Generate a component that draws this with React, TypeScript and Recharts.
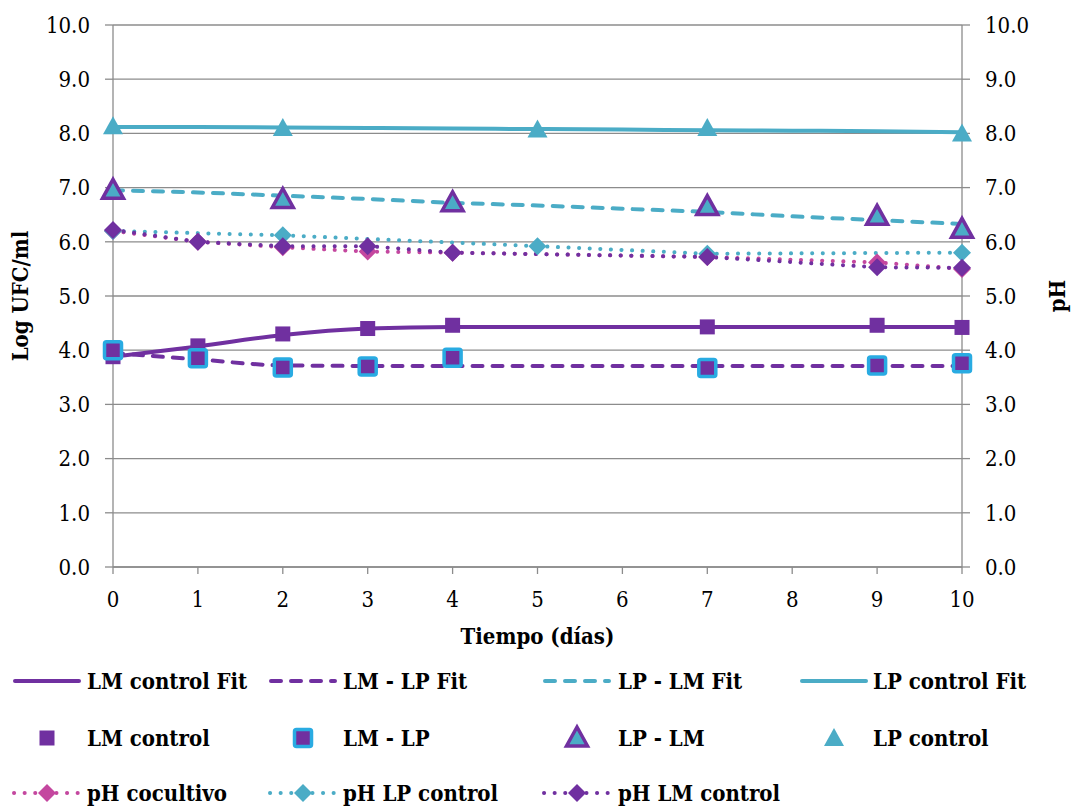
import { ComposedChart, Line, XAxis, YAxis, CartesianGrid } from "recharts";

// sampling days
const days = [0, 1, 2, 3, 4, 5, 6, 7, 8, 9, 10];
const dayTicks = [0, 1, 2, 3, 4, 5, 6, 7, 8, 9, 10];
const valueTicks = [0, 1, 2, 3, 4, 5, 6, 7, 8, 9, 10];

// fitted growth curves (Log UFC/ml)
const lmControlFit = [3.88, 4.07, 4.28, 4.4, 4.43, 4.43, 4.43, 4.43, 4.43, 4.43, 4.43];
const lmLpFit = [3.95, 3.83, 3.72, 3.71, 3.71, 3.71, 3.71, 3.71, 3.71, 3.71, 3.71];
const lpLmFit = [6.95, 6.91, 6.85, 6.79, 6.72, 6.67, 6.61, 6.55, 6.47, 6.4, 6.33];
const lpControlFit = [8.12, 8.12, 8.11, 8.1, 8.09, 8.08, 8.07, 8.06, 8.05, 8.04, 8.02];

// measured counts
const lmDays = [0, 1, 2, 3, 4, 7, 9, 10];
const lmControl = [3.88, 4.08, 4.3, 4.4, 4.46, 4.43, 4.46, 4.42];
const lmLp = [4.0, 3.85, 3.68, 3.7, 3.86, 3.67, 3.72, 3.76];
const lpLmDays = [0, 2, 4, 7, 9, 10];
const lpLm = [6.95, 6.78, 6.72, 6.65, 6.47, 6.23];
const lpDays = [0, 2, 5, 7, 10];
const lpControl = [8.13, 8.1, 8.07, 8.1, 8.0];

// pH
const phCocultivo = [6.2, 6.0, 5.9, 5.82, 5.8, 5.72, 5.62, 5.5];
const phLpControl = [6.2, 6.12, 5.92, 5.78, 5.8];
const phLmControl = [6.22, 6.0, 5.92, 5.92, 5.8, 5.72, 5.53, 5.52];

const PURPLE = "#7030A0";
const AQUA = "#4BACC6";
const BLUE = "#29ABE2";
const PINK = "#C4479F";
const GRID = "#8C8C8C";
const FONT = "'DejaVu Serif Condensed', 'DejaVu Serif', serif";

const W = 1071;
const H = 806;
const PLOT_LEFT = 113;
const PLOT_RIGHT = 962;
const PLOT_TOP = 25;
const PLOT_BOTTOM = 567;

const zip = (xs: number[], ys: number[]) => xs.map((day, i) => ({ day, v: ys[i] }));

type MarkerProps = { cx: number; cy: number };

const Square = ({ cx, cy }: MarkerProps) => (
  <rect x={cx - 7.5} y={cy - 7.5} width={15} height={15} fill={PURPLE} />
);

const FramedSquare = ({ cx, cy }: MarkerProps) => (
  <rect x={cx - 8.5} y={cy - 8.5} width={17} height={17} rx={2} fill={PURPLE} stroke={BLUE} strokeWidth={3.5} />
);

const OutlinedTriangle = ({ cx, cy }: MarkerProps) => (
  <path
    d={`M${cx},${cy - 11} L${cx + 10.5},${cy + 8} L${cx - 10.5},${cy + 8} Z`}
    fill={AQUA}
    stroke={PURPLE}
    strokeWidth={3.5}
  />
);

const Triangle = ({ cx, cy }: MarkerProps) => (
  <path d={`M${cx},${cy - 10} L${cx + 10},${cy + 8} L${cx - 10},${cy + 8} Z`} fill={AQUA} />
);

const Diamond = ({ cx, cy, color }: MarkerProps & { color: string }) => (
  <path d={`M${cx},${cy - 9} L${cx + 9},${cy} L${cx},${cy + 9} L${cx - 9},${cy} Z`} fill={color} />
);

const markers = (name: string, render: (p: MarkerProps) => JSX.Element) => (p: any) => {
  if (p.cx == null || p.cy == null) return <g key={`${name}-${p.index}`} />;
  return <g key={`${name}-${p.index}`}>{render({ cx: p.cx, cy: p.cy })}</g>;
};

const NO_ANIM = { isAnimationActive: false } as const;
const DOTTED = "0.1 10.5";
const DASHED = "10 10";

type LegendItem = {
  label: string;
  kind: "line" | "marker" | "phline";
  color?: string;
  dash?: string;
  marker?: (p: MarkerProps) => JSX.Element;
};

const legendRows: LegendItem[][] = [
  [
    { label: "LM control Fit", kind: "line", color: PURPLE },
    { label: "LM - LP Fit", kind: "line", color: PURPLE, dash: DASHED },
    { label: "LP -  LM Fit", kind: "line", color: AQUA, dash: DASHED },
    { label: "LP control Fit", kind: "line", color: AQUA },
  ],
  [
    { label: "LM control", kind: "marker", marker: Square },
    { label: "LM - LP", kind: "marker", marker: FramedSquare },
    { label: "LP - LM", kind: "marker", marker: OutlinedTriangle },
    { label: "LP control", kind: "marker", marker: Triangle },
  ],
  [
    { label: "pH cocultivo", kind: "phline", color: PINK },
    { label: "pH LP control", kind: "phline", color: AQUA },
    { label: "pH LM control", kind: "phline", color: PURPLE },
  ],
];

const legendCols = [13, 269, 543, 800];
const legendTextX = [87, 343, 618, 873];
const legendRowY = [21, 78, 133];

const boldText = { fontFamily: FONT, fontStretch: "condensed", fontWeight: "bold", fontSize: 22 } as const;

function ChartLegend() {
  return (
    <svg width={W} height={146} style={{ position: "absolute", left: 0, top: 660 }}>
      {legendRows.map((row, r) =>
        row.map((item, c) => {
          const x0 = legendCols[c];
          const y = legendRowY[r];
          const mid = x0 + 34;
          let icon: JSX.Element | null = null;
          if (item.kind === "line") {
            icon = (
              <line
                x1={x0 + 2}
                x2={x0 + 66}
                y1={y}
                y2={y}
                stroke={item.color}
                strokeWidth={4}
                strokeLinecap="round"
                strokeDasharray={item.dash}
              />
            );
          } else if (item.kind === "marker" && item.marker) {
            icon = item.marker({ cx: mid, cy: y });
          } else {
            icon = (
              <g>
                <line x1={x0 + 1} x2={x0 + 66} y1={y} y2={y} stroke={item.color} strokeWidth={4} strokeLinecap="round" strokeDasharray={DOTTED} />
                <Diamond cx={mid} cy={y} color={item.color as string} />
              </g>
            );
          }
          return (
            <g key={`${r}-${c}`}>
              {icon}
              <text x={legendTextX[c]} y={y} dominantBaseline="central" style={boldText} fill="#000">
                {item.label}
              </text>
            </g>
          );
        })
      )}
    </svg>
  );
}

export default function App() {
  const tickStyle = { fill: "#000", fontSize: 22, style: { fontFamily: FONT, fontStretch: "condensed" } };
  const fmt = (v: number) => v.toFixed(1);
  const midY = (PLOT_TOP + PLOT_BOTTOM) / 2;

  return (
    <div style={{ position: "absolute", left: 0, top: 0, width: W, height: H, background: "#fff" }}>
      <ComposedChart
        width={W}
        height={H}
        margin={{ top: PLOT_TOP, right: 0, left: 0, bottom: 154 }}
      >
        <CartesianGrid yAxisId="left" vertical={false} stroke={GRID} strokeWidth={1.3} />
        <XAxis
          type="number"
          dataKey="day"
          domain={[0, 10]}
          ticks={dayTicks}
          height={85}
          stroke={GRID}
          strokeWidth={1.3}
          tickSize={7}
          tickMargin={17}
          tick={tickStyle}
          label={{
            content: () => (
              <text
                x={(PLOT_LEFT + PLOT_RIGHT) / 2}
                y={636}
                textAnchor="middle"
                dominantBaseline="central"
                style={boldText}
              >
                Tiempo (días)
              </text>
            ),
          }}
        />
        <YAxis
          yAxisId="left"
          domain={[0, 10]}
          ticks={valueTicks}
          tickFormatter={fmt}
          width={PLOT_LEFT}
          stroke={GRID}
          strokeWidth={1.3}
          tickSize={8}
          tickMargin={15}
          tick={tickStyle}
          label={{
            content: () => (
              <text
                x={20}
                y={midY}
                transform={`rotate(-90, 20, ${midY})`}
                textAnchor="middle"
                dominantBaseline="central"
                style={boldText}
              >
                Log UFC/ml
              </text>
            ),
          }}
        />
        <YAxis
          yAxisId="right"
          orientation="right"
          domain={[0, 10]}
          ticks={valueTicks}
          tickFormatter={fmt}
          width={W - PLOT_RIGHT}
          stroke={GRID}
          strokeWidth={1.3}
          tickSize={8}
          tickMargin={15}
          tick={tickStyle}
          label={{
            content: () => (
              <text
                x={1057}
                y={midY}
                transform={`rotate(-90, 1057, ${midY})`}
                textAnchor="middle"
                dominantBaseline="central"
                style={boldText}
              >
                pH
              </text>
            ),
          }}
        />

        {/* fitted curves */}
        <Line {...NO_ANIM} yAxisId="left" data={zip(days, lmControlFit)} dataKey="v" type="monotone"
          stroke={PURPLE} strokeWidth={4} dot={false} activeDot={false} />
        <Line {...NO_ANIM} yAxisId="left" data={zip(days, lmLpFit)} dataKey="v" type="monotone"
          stroke={PURPLE} strokeWidth={4} strokeDasharray={DASHED} strokeLinecap="round" dot={false} activeDot={false} />
        <Line {...NO_ANIM} yAxisId="left" data={zip(days, lpLmFit)} dataKey="v" type="monotone"
          stroke={AQUA} strokeWidth={4} strokeDasharray={DASHED} strokeLinecap="round" dot={false} activeDot={false} />
        <Line {...NO_ANIM} yAxisId="left" data={zip(days, lpControlFit)} dataKey="v" type="monotone"
          stroke={AQUA} strokeWidth={4} dot={false} activeDot={false} />

        {/* measured counts, markers only */}
        <Line {...NO_ANIM} yAxisId="left" data={zip(lmDays, lmControl)} dataKey="v" stroke="none"
          dot={markers("lmc", Square)} activeDot={false} />
        <Line {...NO_ANIM} yAxisId="left" data={zip(lmDays, lmLp)} dataKey="v" stroke="none"
          dot={markers("lmlp", FramedSquare)} activeDot={false} />
        <Line {...NO_ANIM} yAxisId="left" data={zip(lpLmDays, lpLm)} dataKey="v" stroke="none"
          dot={markers("lplm", OutlinedTriangle)} activeDot={false} />
        <Line {...NO_ANIM} yAxisId="left" data={zip(lpDays, lpControl)} dataKey="v" stroke="none"
          dot={markers("lpc", Triangle)} activeDot={false} />

        {/* pH series on the right axis */}
        <Line {...NO_ANIM} yAxisId="right" data={zip(lmDays, phCocultivo)} dataKey="v" type="linear"
          stroke={PINK} strokeWidth={4} strokeDasharray={DOTTED} strokeLinecap="round"
          dot={markers("phco", (p) => <Diamond {...p} color={PINK} />)} activeDot={false} />
        <Line {...NO_ANIM} yAxisId="right" data={zip(lpDays, phLpControl)} dataKey="v" type="linear"
          stroke={AQUA} strokeWidth={4} strokeDasharray={DOTTED} strokeLinecap="round"
          dot={markers("phlp", (p) => <Diamond {...p} color={AQUA} />)} activeDot={false} />
        <Line {...NO_ANIM} yAxisId="right" data={zip(lmDays, phLmControl)} dataKey="v" type="linear"
          stroke={PURPLE} strokeWidth={4} strokeDasharray={DOTTED} strokeLinecap="round"
          dot={markers("phlm", (p) => <Diamond {...p} color={PURPLE} />)} activeDot={false} />
      </ComposedChart>
      <ChartLegend />
    </div>
  );
}
